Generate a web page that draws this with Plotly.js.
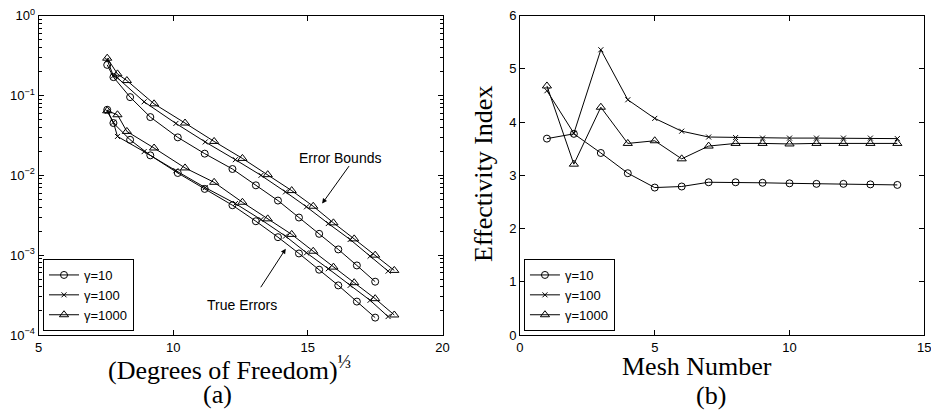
<!DOCTYPE html>
<html>
<head>
<meta charset="utf-8">
<script src="https://cdn.plot.ly/plotly-3.0.1.min.js"></script>
<style>html,body{margin:0;padding:0;background:#fff;}#chart{width:931px;height:410px;}</style>
</head>
<body>
<div id="chart"></div>
<script>
// ---- Panel (a): (Degrees of Freedom)^(1/3) vs error ----
const dof10   = [7.55, 7.78, 8.40, 9.15, 10.17, 11.17, 12.20, 13.07, 13.89, 14.67, 15.42, 16.13, 16.82, 17.50];
const dof100  = [7.55, 7.78, 7.93, 8.92, 10.10, 11.19, 12.31, 13.26, 14.17, 14.95, 15.76, 16.57, 17.31, 17.98];
const dof1000 = [7.55, 7.93, 8.28, 9.29, 10.44, 11.52, 12.57, 13.51, 14.40, 15.20, 15.95, 16.72, 17.50, 18.21];

const bound10   = [0.242, 0.170, 0.0955, 0.0537, 0.0299, 0.0187, 0.0120, 0.0075, 0.00483, 0.00296, 0.00185, 0.00118, 0.000743, 0.000465];
const bound100  = [0.279, 0.176, 0.1665, 0.0834, 0.0447, 0.0262, 0.0157, 0.0100, 0.00620, 0.00403, 0.00249, 0.00157, 0.000972, 0.000631];
const bound1000 = [0.2935, 0.1868, 0.1540, 0.0787, 0.0452, 0.0266, 0.0163, 0.0102, 0.00644, 0.00410, 0.00254, 0.00160, 0.00100, 0.000644];

const true10   = [0.0663, 0.0452, 0.0279, 0.0178, 0.0107, 0.00676, 0.00422, 0.00266, 0.00168, 0.00105, 0.000657, 0.000418, 0.000262, 0.000165];
const true100  = [0.0631, 0.0462, 0.0307, 0.0198, 0.01145, 0.00702, 0.00443, 0.00279, 0.00173, 0.00107, 0.000676, 0.000418, 0.000272, 0.000170];
const true1000 = [0.0644, 0.0574, 0.0355, 0.0220, 0.01238, 0.00818, 0.00460, 0.00285, 0.00182, 0.00112, 0.000708, 0.000452, 0.000285, 0.000178];

const logTickVals = [1e-4, 1e-3, 1e-2, 1e-1, 1];
const logTickText = ['10<sup>−4</sup>', '10<sup>−3</sup>', '10<sup>−2</sup>', '10<sup>−1</sup>', '10<sup>0</sup>'];

// ---- Panel (b): effectivity index vs mesh number ----
const meshNumber = [1, 2, 3, 4, 5, 6, 7, 8, 9, 10, 11, 12, 13, 14];
const eff10   = [3.69, 3.78, 3.42, 3.04, 2.77, 2.79, 2.87, 2.87, 2.86, 2.85, 2.84, 2.84, 2.83, 2.82];
const eff100  = [4.59, 3.79, 5.36, 4.42, 4.07, 3.83, 3.72, 3.71, 3.70, 3.70, 3.70, 3.70, 3.70, 3.69];
const eff1000 = [4.68, 3.21, 4.28, 3.60, 3.65, 3.31, 3.55, 3.60, 3.60, 3.59, 3.60, 3.60, 3.60, 3.60];

const seriesNames = ['γ=10', 'γ=100', 'γ=1000'];

const styles = [
  {symbol: 'circle-open', size: 7},
  {symbol: 'x-thin-open', size: 5},
  {symbol: 'triangle-up-open', size: 8}
];

function tr(x, y, i, xa, ya, showLeg, legendId) {
  return {
    x: x, y: y, type: 'scatter', mode: 'lines+markers',
    name: seriesNames[i], xaxis: xa, yaxis: ya,
    showlegend: showLeg, legend: legendId,
    line: {color: 'black', width: 1},
    marker: {symbol: styles[i].symbol, size: styles[i].size, color: 'black',
             line: {color: 'black', width: 1}}
  };
}

const data = [
  tr(dof10, bound10, 0, 'x', 'y', true, 'legend'),
  tr(dof100, bound100, 1, 'x', 'y', true, 'legend'),
  tr(dof1000, bound1000, 2, 'x', 'y', true, 'legend'),
  tr(dof10, true10, 0, 'x', 'y', false, 'legend'),
  tr(dof100, true100, 1, 'x', 'y', false, 'legend'),
  tr(dof1000, true1000, 2, 'x', 'y', false, 'legend'),
  tr(meshNumber, eff10, 0, 'x2', 'y2', true, 'legend2'),
  tr(meshNumber, eff100, 1, 'x2', 'y2', true, 'legend2'),
  tr(meshNumber, eff1000, 2, 'x2', 'y2', true, 'legend2')
];

const axBase = {
  showline: true, mirror: 'ticks', linecolor: 'black', linewidth: 1,
  ticks: 'inside', ticklen: 5, tickwidth: 1, tickcolor: 'black',
  showgrid: false, zeroline: false, ticklabeloverflow: 'allow',
  tickfont: {family: 'Liberation Sans, Arial, sans-serif', size: 13, color: 'black'}
};

const legBase = {
  bgcolor: 'white', bordercolor: 'black', borderwidth: 1,
  font: {family: 'Liberation Sans, Arial, sans-serif', size: 13, color: 'black'},
  xanchor: 'left', yanchor: 'bottom', tracegroupgap: 0, itemwidth: 30
};

const serif = {family: 'Liberation Serif, Times New Roman, serif', size: 26, color: 'black'};
const sans14 = {family: 'Liberation Sans, Arial, sans-serif', size: 14, color: 'black'};

const layout = {
  width: 931, height: 410,
  margin: {l: 0, r: 0, t: 0, b: 0},
  paper_bgcolor: 'white', plot_bgcolor: 'white',
  font: {family: 'Liberation Sans, Arial, sans-serif', size: 13, color: 'black'},
  xaxis: Object.assign({}, axBase, {domain: [0.0414, 0.4753], range: [5, 20], dtick: 5, tick0: 0, anchor: 'y'}),
  yaxis: Object.assign({}, axBase, {
    domain: [0.183, 0.9617], type: 'log', range: [-4, 0], anchor: 'x',
    tickvals: logTickVals, ticktext: logTickText,
    minor: {ticks: 'inside', ticklen: 3, tickcolor: 'black', dtick: 'D1', showgrid: false}
  }),
  xaxis2: Object.assign({}, axBase, {domain: [0.5585, 0.9928], range: [0, 15], dtick: 5, tick0: 0, anchor: 'y2'}),
  yaxis2: Object.assign({}, axBase, {domain: [0.183, 0.9617], range: [0, 6], dtick: 1, tick0: 0, anchor: 'x2'}),
  legend: Object.assign({}, legBase, {x: 0.0462, y: 0.1927}),
  legend2: Object.assign({}, legBase, {x: 0.5628, y: 0.1927}),
  annotations: [
    {xref: 'x', yref: 'y', x: 16.20, y: -1.779, text: 'Error Bounds', showarrow: false, font: sans14},
    {xref: 'x', yref: 'y', x: 15.53, y: -2.354, text: '', showarrow: true, ax: 28, ay: -39,
     arrowhead: 2, arrowsize: 1, arrowwidth: 1, arrowcolor: 'black'},
    {xref: 'x', yref: 'y', x: 12.55, y: -3.629, text: 'True Errors', showarrow: false, font: sans14},
    {xref: 'x', yref: 'y', x: 14.18, y: -2.92, text: '', showarrow: true, ax: -26, ay: 40,
     arrowhead: 2, arrowsize: 1, arrowwidth: 1, arrowcolor: 'black'},
    {xref: 'paper', yref: 'paper', x: 0.246, y: 0.102, xanchor: 'center', yanchor: 'middle',
     text: '(Degrees of Freedom)<sup>⅓</sup>', showarrow: false, font: serif},
    {xref: 'paper', yref: 'paper', x: 0.234, y: 0.038, xanchor: 'center', yanchor: 'middle',
     text: '(a)', showarrow: false, font: serif},
    {xref: 'paper', yref: 'paper', x: 0.7487, y: 0.107, xanchor: 'center', yanchor: 'middle',
     text: 'Mesh Number', showarrow: false, font: serif},
    {xref: 'paper', yref: 'paper', x: 0.7637, y: 0.035, xanchor: 'center', yanchor: 'middle',
     text: '(b)', showarrow: false, font: serif},
    {xref: 'paper', yref: 'paper', x: 0.5188, y: 0.5756, xanchor: 'center', yanchor: 'middle',
     text: 'Effectivity Index', textangle: -90, showarrow: false, font: serif}
  ]
};

Plotly.newPlot('chart', data, layout, {staticPlot: true, displayModeBar: false});
</script>
</body>
</html>
